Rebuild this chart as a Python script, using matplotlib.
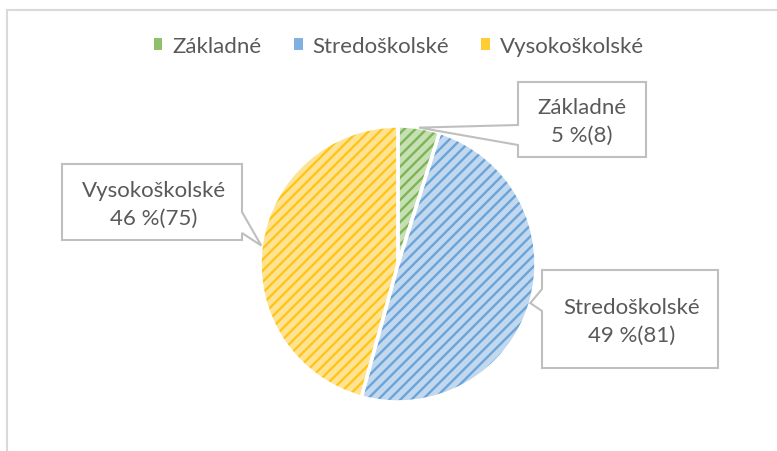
import matplotlib.pyplot as plt
from matplotlib.patches import Patch, Polygon
import numpy as np

plt.rcParams['font.family'] = ['Lato', 'DejaVu Sans']

# Data.
CATEGORIES = ['Základné', 'Stredoškolské', 'Vysokoškolské']
COUNTS = [8, 81, 75]
PERCENT_LABELS = ['5 %', '49 %', '46 %']

FACE_COLORS = ['#c6e0b4', '#c2d8ee', '#ffe395']
HATCH_COLORS = ['#70ad47', '#5b9bd5', '#ffc000']
LEGEND_COLORS = ['#8cc069', '#7fb0e0', '#ffcc33']
TEXT_COLOR = '#595959'
FONT_SIZE = 16

W, H = 777, 452
FIG = plt.figure(figsize=(W / 100, H / 100), dpi=100)
AX = FIG.add_axes([0, 0, 1, 1])

# pixel y (top-down) -> data y
Y = lambda y: H - y

CENTER = (398, Y(265))
RADIUS = 138

# Base fill.
wedges, _ = AX.pie(COUNTS, colors=FACE_COLORS, startangle=90, counterclock=False,
                   center=CENTER, radius=RADIUS, frame=True,
                   wedgeprops=dict(linewidth=0))
# Hatch overlay.
plt.rcParams['hatch.linewidth'] = 1.7
hatch_wedges, _ = AX.pie(COUNTS, colors=['none'] * 3, startangle=90, counterclock=False,
                         center=CENTER, radius=RADIUS, frame=True,
                         wedgeprops=dict(linewidth=0))
for w, hc in zip(hatch_wedges, HATCH_COLORS):
    w.set_facecolor('none')
    w.set_edgecolor(hc)
    w.set_hatch('///')
    w.set_alpha(0.85)
# White separators.
AX.pie(COUNTS, colors=['none'] * 3, startangle=90, counterclock=False,
       center=CENTER, radius=RADIUS, frame=True,
       wedgeprops=dict(linewidth=2.5, edgecolor='white', fill=False))
AX.set_xlim(0, W)
AX.set_ylim(0, H)
AX.axis('off')


def tip_of(w):
    ang = np.radians((w.theta1 + w.theta2) / 2)
    return (w.center[0] + w.r * np.cos(ang), w.center[1] + w.r * np.sin(ang))


def callout(verts_px, tip, text, text_xy):
    pts = []
    for v in verts_px:
        if v == 'TIP':
            pts.append(tip)
        else:
            pts.append((v[0], Y(v[1])))
    AX.add_patch(Polygon(pts, closed=True, facecolor='white', edgecolor='#bfbfbf',
                         linewidth=1.5, zorder=5))
    AX.text(text_xy[0], Y(text_xy[1]), text, ha='center', va='center',
            color=TEXT_COLOR, fontsize=FONT_SIZE, zorder=6, linespacing=1.45)


labels = ['%s\n%s(%d)' % (c, p, n) for c, p, n in zip(CATEGORIES, PERCENT_LABELS, COUNTS)]

callout([(518, 83), (646, 83), (646, 158), (518, 158), (518, 146), 'TIP', (518, 126)],
        tip_of(wedges[0]), labels[0], (582, 122))
callout([(542, 271), (718, 271), (718, 369), (542, 369), (542, 312), 'TIP', (542, 290)],
        tip_of(wedges[1]), labels[1], (632, 322))
callout([(62, 165), (242, 165), (242, 213), 'TIP', (242, 234), (242, 241), (62, 241)],
        tip_of(wedges[2]), labels[2], (154, 205))

# Legend.
handles = [Patch(facecolor=lc, linewidth=0) for lc in LEGEND_COLORS]
FIG.legend(handles, CATEGORIES, loc='center', bbox_to_anchor=(399 / W, 1 - 47 / H),
           ncol=3, frameon=False, fontsize=FONT_SIZE, labelcolor=TEXT_COLOR,
           handlelength=0.4, handleheight=0.4, handletextpad=0.45,
           columnspacing=1.45)

# Chart frame (partially cropped).
AX.plot([6.5, W], [Y(10.5), Y(10.5)], color='#d9d9d9', linewidth=1.5, clip_on=False)
AX.plot([6.5, 6.5], [Y(10.5), 0], color='#d9d9d9', linewidth=1.5, clip_on=False)

plt.savefig('out.png', dpi=100)
